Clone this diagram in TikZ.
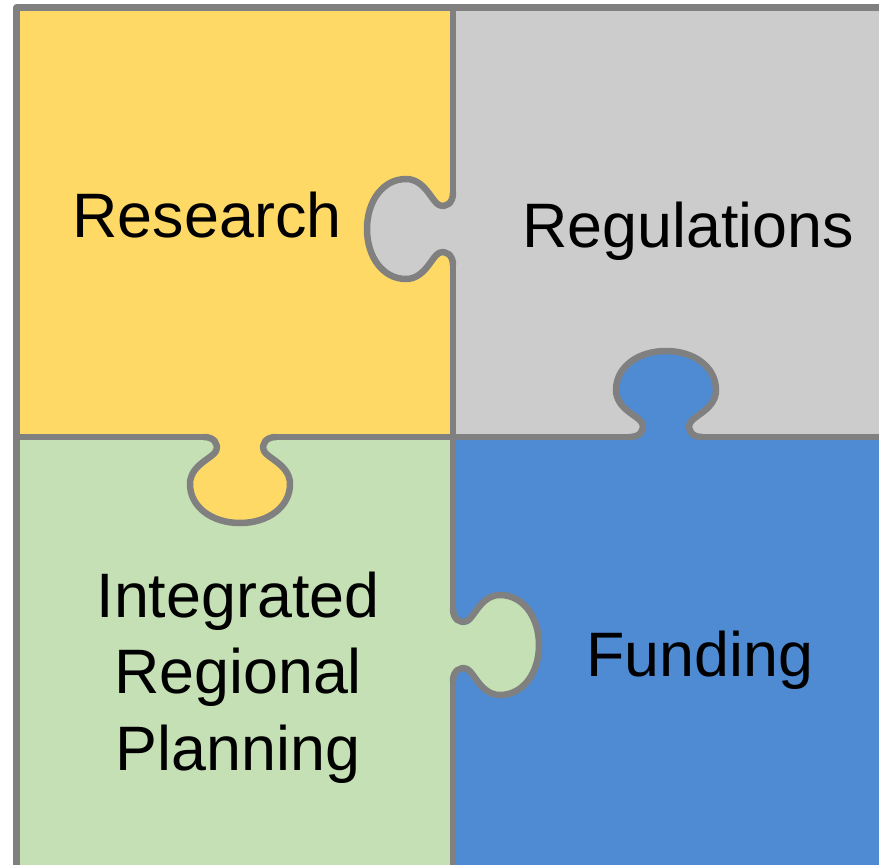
\documentclass[tikz,border=0pt]{standalone}
\usepackage{fontspec}
\setmainfont{Liberation Sans}
\definecolor{pzyellow}{HTML}{FFD966}
\definecolor{pzgray}{HTML}{CCCCCC}
\definecolor{pzblue}{HTML}{4F8BD3}
\definecolor{pzgreen}{HTML}{C5E0B4}
\definecolor{pzline}{HTML}{808080}
\newcommand{\pztabpath}{(-36,0) .. controls (-26,0) and (-21,7) .. (-24,14) .. controls (-27,21) and (-50,28) .. (-50,47) .. controls (-50,70) and (-28,86) .. (0,86) .. controls (28,86) and (50,70) .. (50,47) .. controls (50,28) and (27,21) .. (24,14) .. controls (21,7) and (26,0) .. (36,0)}
\tikzset{
  edge/.style={draw=pzline, line width=6.5pt, line cap=round, line join=round},
  label/.style={font=\fontsize{62.8}{76.5}\selectfont, text=black, inner sep=0pt},
}
\begin{document}
\begin{tikzpicture}[x=1pt, y=-1pt]
\useasboundingbox (0,0) rectangle (879,865);
% quadrants
\fill[pzyellow] (16.5,7.5) rectangle (453,437);
\fill[pzgray] (453,7.5) rectangle (885,437);
\fill[pzgreen] (16.5,437) rectangle (453,870);
\fill[pzblue] (453,437) rectangle (885,870);
% tabs: fills
\begin{scope}[shift={(453,229)}, x={(0pt,-1pt)}, y={(-1pt,0pt)}]
  \fill[pzgray] \pztabpath -- cycle;
\end{scope}
\begin{scope}[shift={(666,437)}, x={(1pt,0pt)}, y={(0pt,1pt)}]
  \fill[pzblue] \pztabpath -- cycle;
\end{scope}
\begin{scope}[shift={(240,437)}, x={(1pt,0pt)}, y={(0pt,-1pt)}]
  \fill[pzyellow] \pztabpath -- cycle;
\end{scope}
\begin{scope}[shift={(453,645)}, x={(0pt,-1pt)}, y={(1pt,0pt)}]
  \fill[pzgreen] \pztabpath -- cycle;
\end{scope}
% straight edges
\draw[edge] (16.5,875) -- (16.5,7.5) -- (890,7.5);
\draw[edge] (16.5,437) -- (204,437);
\draw[edge] (276,437) -- (630,437);
\draw[edge] (702,437) -- (890,437);
\draw[edge] (453,7.5) -- (453,193);
\draw[edge] (453,265) -- (453,609);
\draw[edge] (453,681) -- (453,875);
% tab outlines
\begin{scope}[shift={(453,229)}, x={(0pt,-1pt)}, y={(-1pt,0pt)}]
  \draw[edge] \pztabpath;
\end{scope}
\begin{scope}[shift={(666,437)}, x={(1pt,0pt)}, y={(0pt,1pt)}]
  \draw[edge] \pztabpath;
\end{scope}
\begin{scope}[shift={(240,437)}, x={(1pt,0pt)}, y={(0pt,-1pt)}]
  \draw[edge] \pztabpath;
\end{scope}
\begin{scope}[shift={(453,645)}, x={(0pt,-1pt)}, y={(1pt,0pt)}]
  \draw[edge] \pztabpath;
\end{scope}
% labels
\node[label, anchor=base] (research) at (207,237) {Research};
\node[label, anchor=base] (regulations) at (688,247) {Regulations};
\node[label, anchor=north, align=center] (irp) at (238,571.5) {Integrated\\Regional\\Planning};
\node[label, anchor=base] (funding) at (700,676) {Funding};
\end{tikzpicture}
\end{document}
